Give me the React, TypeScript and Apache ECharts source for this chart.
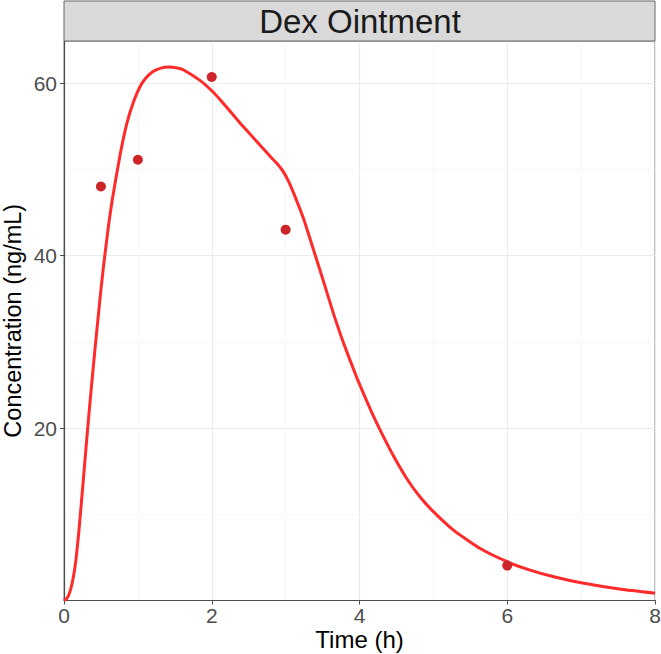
import React, { useEffect, useRef } from "react";
import * as echarts from "echarts";

const panelTitle = "Dex Ointment";
const xTitle = "Time (h)";
const yTitle = "Concentration (ng/mL)";

const obsTime = [0.5, 1, 2, 3, 6];
const obsConc = [48.0, 51.1, 60.7, 43.0, 4.05];

const predTime = [0, 0.04, 0.08, 0.12, 0.16, 0.2, 0.25, 0.3, 0.35, 0.42, 0.49, 0.53, 0.6, 0.65, 0.76, 0.85, 0.94, 1.03, 1.1, 1.2, 1.3, 1.42, 1.55, 1.62, 1.84, 2.0, 2.12, 2.4, 2.6, 2.79, 2.9, 2.97, 3.04, 3.11, 3.25, 3.38, 3.52, 3.65, 3.79, 3.97, 4.15, 4.3, 4.47, 4.65, 4.82, 5.0, 5.28, 5.64, 6.0, 6.32, 6.63, 7.0, 7.54, 8.0];
const predConc = [0, 0.25, 1.0, 2.4, 4.6, 7.9, 12.8, 17.9, 22.8, 29.2, 35.2, 38.4, 43.3, 46.3, 51.7, 55.3, 57.8, 59.6, 60.5, 61.3, 61.7, 61.85, 61.7, 61.5, 60.3, 59.1, 58.0, 55.2, 53.3, 51.5, 50.5, 49.7, 48.6, 47.2, 44.1, 40.6, 36.8, 33.2, 29.7, 25.7, 22.1, 19.4, 16.6, 14.0, 12.0, 10.3, 8.1, 6.0, 4.5, 3.5, 2.75, 2.05, 1.3, 0.85];

const xTicks = [0, 2, 4, 6, 8];
const yTicks = [20, 40, 60];

export default function App() {
  const ref = useRef<HTMLDivElement>(null);
  useEffect(() => {
    if (!ref.current) return;
    const chart = echarts.init(ref.current, undefined, { renderer: "svg" });
    const font = "'Liberation Sans', Arial, Helvetica, sans-serif";
    chart.setOption({
      animation: false,
      backgroundColor: "#ffffff",
      textStyle: { fontFamily: font },
      grid: {
        left: 64,
        right: 6,
        top: 41,
        bottom: 53.5,
        outerBoundsMode: "none",
        containLabel: false,
        show: true,
        borderColor: "#7f7f7f",
        borderWidth: 1,
        backgroundColor: "transparent",
      },
      graphic: [
        {
          type: "rect",
          shape: { x: 64, y: 1, width: 591, height: 40 },
          style: { fill: "#D9D9D9", stroke: "#666666", lineWidth: 1 },
          z: 10,
        },
        {
          type: "text",
          x: 360,
          y: 21,
          style: {
            text: panelTitle,
            fontSize: 33,
            fontFamily: font,
            fill: "#1A1A1A",
            align: "center",
            verticalAlign: "middle",
          },
          z: 11,
        },
      ],
      xAxis: {
        type: "value",
        min: 0,
        max: 8,
        interval: 2,
        name: xTitle,
        nameLocation: "middle",
        nameGap: 27,
        nameMoveOverlap: false,
        nameTextStyle: { fontSize: 24, color: "#000000", fontFamily: font },
        axisLine: { show: true, onZero: false, lineStyle: { color: "#4D4D4D", width: 1.2 } },
        axisTick: { show: true, length: 4, lineStyle: { color: "#4D4D4D", width: 1 }, customValues: xTicks },
        axisLabel: { fontSize: 21, color: "#4D4D4D", margin: 4, customValues: xTicks, fontFamily: font },
        splitLine: { show: true, lineStyle: { color: "#EBEBEB", width: 1.1 } },
        minorTick: { show: false, splitNumber: 2 },
        minorSplitLine: { show: true, lineStyle: { color: "#F3F3F3", width: 0.6 } },
      },
      yAxis: {
        type: "value",
        min: 0,
        max: 64.87,
        interval: 20,
        name: yTitle,
        nameLocation: "middle",
        nameGap: 39,
        nameMoveOverlap: false,
        nameTextStyle: { fontSize: 23.5, color: "#000000", fontFamily: font },
        axisLine: { show: true, onZero: false, lineStyle: { color: "#4D4D4D", width: 1.2 } },
        axisTick: { show: true, length: 4, lineStyle: { color: "#4D4D4D", width: 1 }, customValues: yTicks },
        axisLabel: { fontSize: 21, color: "#4D4D4D", margin: 7, customValues: yTicks, fontFamily: font },
        splitLine: { show: true, lineStyle: { color: "#EBEBEB", width: 1.1 } },
        minorTick: { show: false, splitNumber: 2 },
        minorSplitLine: { show: true, lineStyle: { color: "#F3F3F3", width: 0.6 } },
      },
      series: [
        {
          type: "line",
          data: predTime.map((t, i) => [t, predConc[i]]),
          showSymbol: false,
          smooth: 0.15,
          lineStyle: { color: "#FF2A2A", width: 3 },
          z: 3,
        },
        {
          type: "scatter",
          data: obsTime.map((t, i) => [t, obsConc[i]]),
          symbolSize: 10,
          itemStyle: { color: "#CC2428", opacity: 1 },
          z: 4,
        },
      ],
    });
    return () => chart.dispose();
  }, []);
  return <div ref={ref} style={{ width: 661, height: 654, position: "absolute", left: 0, top: 0 }} />;
}
